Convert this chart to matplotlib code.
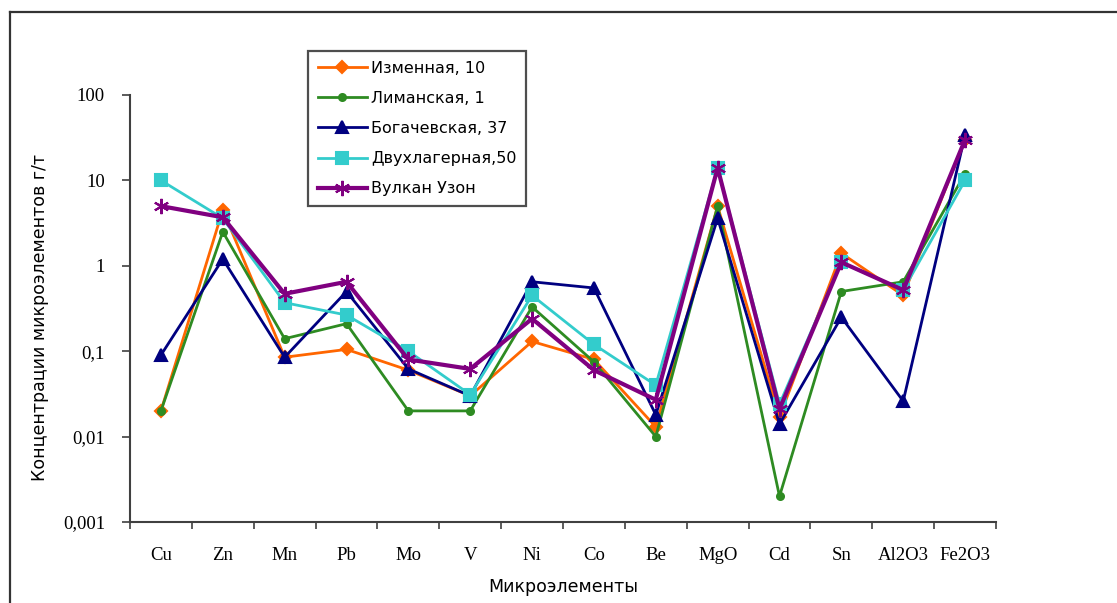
import numpy as np
import matplotlib
matplotlib.use('Agg')
import matplotlib.pyplot as plt
from matplotlib.lines import Line2D
from matplotlib.ticker import FixedLocator, NullLocator

elements = ['Cu', 'Zn', 'Mn', 'Pb', 'Mo', 'V', 'Ni', 'Co', 'Be', 'MgO',
            'Cd', 'Sn', 'Al2O3', 'Fe2O3']

izmennaya = [0.02, 4.5, 0.085, 0.105, 0.06, 0.03, 0.13, 0.08, 0.013, 5.0,
             0.017, 1.4, 0.45, 30]
limanskaya = [0.02, 2.5, 0.14, 0.21, 0.02, 0.02, 0.33, 0.075, 0.01, 5.0,
              0.002, 0.5, 0.65, 12]
bogachevskaya = [0.09, 1.2, 0.085, 0.5, 0.062, 0.03, 0.65, 0.55, 0.018, 3.6,
                 0.014, 0.25, 0.026, 34]
dvukhlagernaya = [10, 3.6, 0.37, 0.265, 0.1, 0.031, 0.45, 0.12, 0.04, 14,
                  0.024, 1.1, 0.52, 10]
uzon = [5.0, 3.7, 0.47, 0.65, 0.08, 0.062, 0.24, 0.06, 0.027, 14,
        0.021, 1.1, 0.52, 30]

series = [
    ('Изменная, 10', izmennaya, '#FF6600', 'D', 6, 2.0),
    ('Лиманская, 1', limanskaya, '#2E8B22', 'o', 5, 2.0),
    ('Богачевская, 37', bogachevskaya, '#000080', '^', 8, 2.0),
    ('Двухлагерная,50', dvukhlagernaya, '#33CCCC', 's', 8, 2.0),
    ('Вулкан Узон', uzon, '#800080', (6, 2, 0), 11, 3.0),
]

serif = ['Liberation Serif', 'DejaVu Serif']
sans = ['DejaVu Sans']

W, H = 1117, 603
fig = plt.figure(figsize=(W / 100, H / 100), dpi=100)
ax = fig.add_axes([130 / W, 1 - 522 / H, 866 / W, 427 / H])

x = np.arange(len(elements))
for label, vals, color, marker, ms, lw in series:
    ax.plot(x, vals, color=color, marker=marker, markersize=ms, linewidth=lw,
            markeredgecolor=color, markeredgewidth=1.5, label=label)

ax.set_yscale('log')
ax.set_ylim(0.001, 100)
ax.set_xlim(-0.5, len(elements) - 0.5)
ax.yaxis.set_major_locator(FixedLocator([0.001, 0.01, 0.1, 1, 10, 100]))
ax.yaxis.set_minor_locator(NullLocator())
ax.set_yticklabels(['0,001', '0,01', '0,1', '1', '10', '100'],
                   family=serif, fontsize=13.5)

ax.set_xticks(x)
ax.set_xticklabels(elements, family=serif, fontsize=13.5)
ax.set_xticks(np.arange(len(elements) + 1) - 0.5, minor=True)
ax.tick_params(axis='x', which='major', length=0, pad=18)
ax.tick_params(axis='x', which='minor', length=5, width=1.2, color='#404040')
ax.tick_params(axis='y', length=6, width=1.2, color='#404040', pad=12)

for side in ['top', 'right']:
    ax.spines[side].set_visible(False)
for side in ['left', 'bottom']:
    ax.spines[side].set_color('#404040')
    ax.spines[side].set_linewidth(1.5)

ax.set_xlabel('Микроэлементы', family=sans, fontsize=12.5, labelpad=10)
ax.set_ylabel('Концентрации микроэлементов г/т', family=sans, fontsize=12.5)
ax.yaxis.set_label_coords(-0.094, 0.48)

leg = ax.legend(loc='upper left', bbox_to_anchor=(308 / W, 1 - 51 / H),
                bbox_transform=fig.transFigure, prop={'family': sans, 'size': 11.5},
                fancybox=False, frameon=True, handlelength=3.1,
                labelspacing=0.95, borderpad=0.6, handletextpad=0.25,
                borderaxespad=0)
leg.get_frame().set_edgecolor('#222222')
leg.get_frame().set_linewidth(1.6)

# outer chart border (top and left edges visible)
fig.add_artist(Line2D([10 / W, 1], [1 - 12 / H, 1 - 12 / H],
                      transform=fig.transFigure, color='#333333', linewidth=1.6))
fig.add_artist(Line2D([10 / W, 10 / W], [0, 1 - 12 / H],
                      transform=fig.transFigure, color='#333333', linewidth=1.6))

fig.savefig('out.png', dpi=100)
